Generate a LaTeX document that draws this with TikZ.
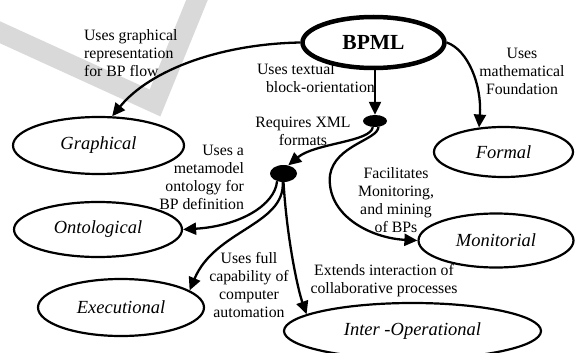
\documentclass[tikz,border=0pt]{standalone}
\usepackage{fontspec}
\setmainfont{Liberation Serif}
\usetikzlibrary{shapes.geometric,arrows.meta}
\tikzset{
  lbl/.style={font=\fontsize{15.8}{18}\selectfont, inner sep=0pt, outer sep=0pt},
  cat/.style={ellipse, draw, line width=2.2pt, inner sep=0pt,
              font=\fontsize{18.5}{20}\selectfont\itshape},
  jdot/.style={ellipse, fill=black, draw=none, inner sep=0pt},
  arr/.style={line width=2.3pt, -{Triangle[length=13pt,width=12pt]}},
  wmark/.style={draw=black!15, line width=20pt, line join=miter},
}
\begin{document}
\begin{tikzpicture}[x=1pt,y=-1pt]
\useasboundingbox (0,0) rectangle (576,353);
% watermark
\draw[wmark] (-5,30) -- (155,103) -- (199,-5);

% main nodes
\node[ellipse, draw, line width=4.5pt, inner sep=0pt, minimum width=142pt, minimum height=51pt,
      font=\fontsize{21.5}{24}\selectfont\bfseries] (bpml) at (373.5,42.5) {BPML};
\node[cat, minimum width=171pt, minimum height=57pt] (graph) at (98.5,145.5) {Graphical};
\node[cat, minimum width=139pt, minimum height=50pt] (formal) at (503.5,152) {Formal};
\node[cat, minimum width=168pt, minimum height=55pt] (onto) at (98,229.5) {Ontological};
\node[cat, minimum width=155pt, minimum height=54pt] (monit) at (496,240.5) {Monitorial};
\node[cat, minimum width=166pt, minimum height=57pt] (exec) at (121,307.5) {Executional};
\node[cat, minimum width=257pt, minimum height=56pt] (inter) at (412.5,331) {Inter -Operational};

% junction dots
\node[jdot, minimum width=24pt, minimum height=12pt] (d1) at (375,121) {};
\node[jdot, minimum width=27pt, minimum height=17pt] (d2) at (283.5,173.5) {};

% connectors
\draw[arr] (bpml.west) .. controls (220,44) and (150,70) .. (graph.65);
\draw[arr] (bpml.east) .. controls (468,50) and (482,85) .. (formal.135);
\draw[arr] (d1.north |- bpml.south) -- (d1.north);
\draw[arr] (d1.250) .. controls (371,142) and (315,143) .. (d2.60);
\draw[arr] (d1.300) .. controls (378,140) and (335,145) .. (330,175)
           .. controls (326,215) and (370,238) .. (monit.west);
\draw[arr] (d2.230) .. controls (275,205) and (240,226) .. (onto.east);
\draw[arr] (d2.265) .. controls (285,225) and (215,230) .. (exec.14);
\draw[arr] (d2.south) .. controls (287,240) and (298,290) .. (inter.171);

% labels
\node[lbl, align=left, anchor=north west] (lgraph) at (84,29.2)
  {Uses graphical\\representation\\for BP flow};
\node[lbl, align=left, anchor=north west] (ltext) at (257,63.2)
  {Uses textual\\\hspace*{9pt}block-orientation};
\node[lbl, align=center, anchor=north] (lxml) at (303,117.2)
  {Requires XML\\formats};
\node[lbl, align=right, anchor=north east] (lmeta) at (244,145.2)
  {Uses a\\metamodel\\ontology for\\BP definition};
\node[lbl, align=center, anchor=north] (lfac) at (396,167.2)
  {Facilitates\\Monitoring,\\and mining\\of BPs};
\node[lbl, align=center, anchor=north] (lmath) at (522,48.2)
  {Uses\\mathematical\\Foundation};
\node[lbl, align=center, anchor=north] (lfull) at (249,252.2)
  {Uses full\\capability of\\computer\\automation};
\node[lbl, align=center, anchor=north] (lext) at (384,264.2)
  {Extends interaction of\\collaborative processes};
\end{tikzpicture}
\end{document}
